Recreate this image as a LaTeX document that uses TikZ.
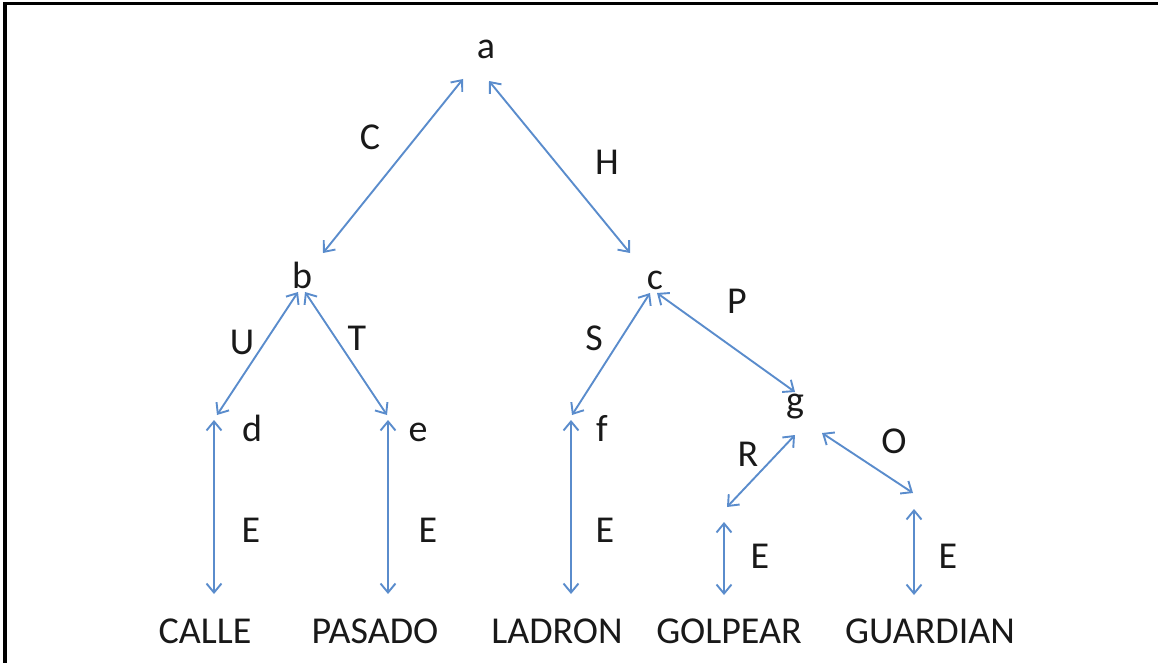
\documentclass[tikz,border=0pt]{standalone}
\usepackage{fontspec}
\setmainfont{Carlito}
\usetikzlibrary{arrows.meta,calc}
\definecolor{linkblue}{RGB}{90,140,204}
\begin{document}
\begin{tikzpicture}[x=1pt,y=-1pt,
  lbl/.style={anchor=base,inner sep=0pt,font=\fontsize{38}{46}\selectfont,text=black!90},
  link/.style={draw=linkblue,line width=1.9pt,
    {Straight Barb[length=9pt,width=15pt]}-{Straight Barb[length=9pt,width=15pt]}},
  frame/.style={line width=3.5pt}]
\useasboundingbox (0,0) rectangle (1158,663);
\draw[frame] (5,663) -- (5,3.5) -- (1158,3.5);

% tree vertices
\node[lbl] (a) at (486,59) {a};
\node[lbl] (b) at (302,288) {b};
\node[lbl] (c) at (655,289) {c};
\node[lbl] (d) at (252,441) {d};
\node[lbl] (e) at (418,441) {e};
\node[lbl] (f) at (602,441) {f};
\node[lbl] (g) at (795,412) {g};
\coordinate (h) at (726,514);
\coordinate (i) at (914,501);

% leaves
\node[lbl] (calle) at (205,643) {CALLE};
\node[lbl] (pasado) at (375,643) {PASADO};
\node[lbl] (ladron) at (557,643) {LADRON};
\node[lbl] (golpear) at (729,643) {GOLPEAR};
\node[lbl] (guardian) at (930,643) {GUARDIAN};

% edge labels
\node[lbl] (lC) at (370,150) {C};
\node[lbl] (lH) at (607,175) {H};
\node[lbl] (lP) at (737,313) {P};
\node[lbl] (lU) at (242,354) {U};
\node[lbl] (lT) at (357,350) {T};
\node[lbl] (lS) at (594,350) {S};
\node[lbl] (lR) at (748,466) {R};
\node[lbl] (lO) at (894,453) {O};
\node[lbl] (lE1) at (251,542) {E};
\node[lbl] (lE2) at (428,542) {E};
\node[lbl] (lE3) at (605,542) {E};
\node[lbl] (lE4) at (760,568) {E};
\node[lbl] (lE5) at (948,568) {E};

% edges
\draw[link] ($(a.base)+(-23,20)$) -- ($(b.base)+(21,-35)$);
\draw[link] ($(a.base)+(3,22)$) -- ($(c.base)+(-25,-36)$);
\draw[link] ($(b.base)+(-4,4)$) -- ($(d.base)+(-35,-26)$);
\draw[link] ($(b.base)+(3,4)$) -- ($(e.base)+(-31,-26)$);
\draw[link] ($(c.base)+(-5,4)$) -- ($(f.base)+(-30,-26)$);
\draw[link] ($(c.base)+(2,4)$) -- ($(g.base)+(0,-20)$);
\draw[link] ($(g.base)+(0,23)$) -- ($(h)+(1,-7)$);
\draw[link] ($(g.base)+(27,21)$) -- ($(i)+(-1,-8)$);

% leaf edges
\draw[link] ($(d.base)+(-38,-21)$) -- ($(calle.base)+(9,-49)$);
\draw[link] ($(e.base)+(-30,-21)$) -- ($(pasado.base)+(13,-49)$);
\draw[link] ($(f.base)+(-31,-21)$) -- ($(ladron.base)+(14,-49)$);
\draw[link] ($(h)+(-2,8)$) -- ($(golpear.base)+(-5,-48)$);
\draw[link] ($(i)+(0,8)$) -- ($(guardian.base)+(-16,-48)$);
\end{tikzpicture}
\end{document}
